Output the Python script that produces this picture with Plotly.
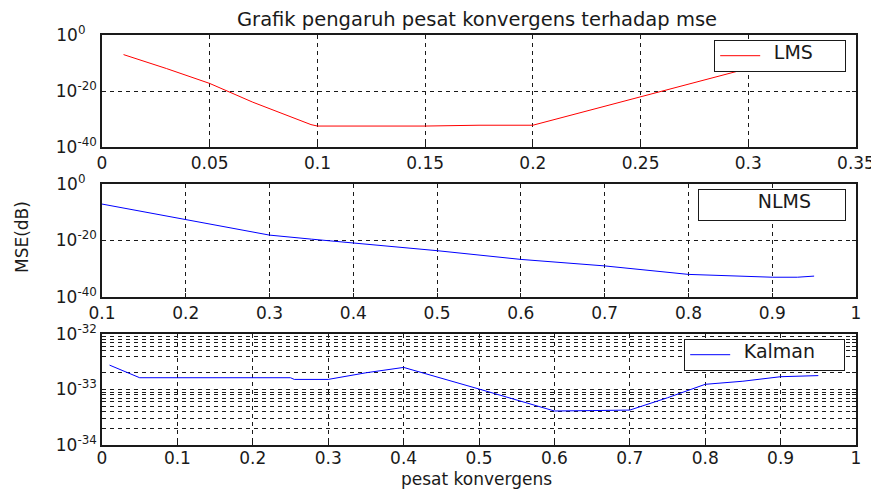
import plotly.graph_objects as go

# ---------------- data ----------------
lms_mu = [0.01, 0.03, 0.05, 0.07, 0.097, 0.1, 0.15, 0.175, 0.2, 0.25, 0.3]
lms_mse = [1e-7, 1e-12, 5e-18, 1e-24, 1e-32, 3e-33, 3e-33, 6e-33, 6e-33, 1e-22, 1.2e-12]

nlms_mu = [0.1, 0.2, 0.3, 0.35, 0.4, 0.45, 0.5, 0.6, 0.7, 0.8, 0.85, 0.9, 0.93, 0.95]
nlms_mse = [8e-8, 3e-13, 8e-19, 3e-20, 1.6e-21, 6e-23, 2.5e-24, 2e-27, 1e-29, 1e-32,
            2.5e-33, 1e-33, 1e-33, 2.5e-33]

kal_mu = [0.01, 0.05, 0.1, 0.2, 0.25, 0.255, 0.3, 0.35, 0.4, 0.5, 0.55, 0.6, 0.65,
          0.7, 0.75, 0.8, 0.85, 0.9, 0.95]
kal_mse = [2.75e-33, 1.63e-33, 1.63e-33, 1.63e-33, 1.63e-33, 1.52e-33, 1.52e-33,
           2.0e-33, 2.5e-33, 1.02e-33, 6.4e-34, 4.1e-34, 4.17e-34, 4.26e-34, 7.1e-34,
           1.24e-33, 1.41e-33, 1.7e-33, 1.78e-33]

top_xticks = [0, 0.05, 0.1, 0.15, 0.2, 0.25, 0.3, 0.35]
mid_xticks = [0.1, 0.2, 0.3, 0.4, 0.5, 0.6, 0.7, 0.8, 0.9, 1]
bot_xticks = [0, 0.1, 0.2, 0.3, 0.4, 0.5, 0.6, 0.7, 0.8, 0.9, 1]
big_yticks = [1e-40, 1e-20, 1e0]
big_ylabels = ["10<sup>-40</sup>", "10<sup>-20</sup>", "10<sup>0&nbsp;&nbsp;&nbsp;</sup>"]
kal_yticks = [1e-34, 1e-33, 1e-32]
kal_ylabels = ["10<sup>-34</sup>", "10<sup>-33</sup>", "10<sup>-32</sup>"]
kal_minor = [2e-34, 3e-34, 4e-34, 5e-34, 6e-34, 7e-34, 8e-34, 9e-34,
             2e-33, 4e-33, 5e-33, 6e-33, 7e-33, 8e-33, 9e-33]

title_text = "Grafik pengaruh pesat konvergens terhadap mse"
ylabel_text = "MSE(dB)"
xlabel_text = "pesat konvergens"
legend_names = ["LMS", "NLMS", "Kalman"]

# ---------------- figure ----------------
OFF = 8                      # the page body margin shifts the figure by 8 px
W, H = 879 - OFF, 490 - OFF
FONT = "DejaVu Sans"
FS = 17
INK = "#1a1a1a"


def px_x(p):
    return (p - OFF) / W


def px_y(p):
    return 1 - (p - OFF) / H


def leg_name(s):
    return "&nbsp;&nbsp;&nbsp;<span style='font-size:19px'>" + s + "</span>"


fig = go.Figure()
fig.add_trace(go.Scatter(x=lms_mu, y=lms_mse, mode="lines", name=leg_name(legend_names[0]),
                         line=dict(color="#ff0000", width=1),
                         xaxis="x", yaxis="y", legend="legend"))
fig.add_trace(go.Scatter(x=nlms_mu, y=nlms_mse, mode="lines", name=legend_names[1],
                         line=dict(color="#0000ff", width=1), showlegend=False,
                         xaxis="x2", yaxis="y2"))
# the NLMS legend entry shows no sample line in the reference
fig.add_trace(go.Scatter(x=[None], y=[None], mode="lines", name=leg_name(legend_names[1]),
                         line=dict(color="rgba(0,0,0,0)", width=1),
                         xaxis="x2", yaxis="y2", legend="legend2"))
fig.add_trace(go.Scatter(x=kal_mu, y=kal_mse, mode="lines", name=leg_name(legend_names[2]),
                         line=dict(color="#0000ff", width=1),
                         xaxis="x3", yaxis="y3", legend="legend3"))

xdom = [px_x(102), px_x(856)]
axis_common = dict(showline=True, mirror="allticks", linecolor=INK, linewidth=1.5,
                   ticks="inside", ticklen=4, tickcolor=INK, automargin=False,
                   showgrid=True, gridcolor=INK, gridwidth=1.2, griddash="4px,4px",
                   zeroline=False, tickfont=dict(family=FONT, size=FS, color=INK))

fig.update_layout(
    width=W, height=H, margin=dict(l=0, r=0, t=0, b=0, autoexpand=False),
    paper_bgcolor="white", plot_bgcolor="white",
    font=dict(family=FONT, size=FS, color=INK),
    xaxis=dict(domain=xdom, anchor="y", range=[0, 0.35], tickvals=top_xticks, **axis_common),
    yaxis=dict(domain=[px_y(147), px_y(35)], anchor="x", type="log", range=[-40, 0],
               tickvals=big_yticks, ticktext=big_ylabels, **axis_common),
    xaxis2=dict(domain=xdom, anchor="y2", range=[0.1, 1], tickvals=mid_xticks, **axis_common),
    yaxis2=dict(domain=[px_y(297), px_y(184)], anchor="x2", type="log", range=[-40, 0],
                tickvals=big_yticks, ticktext=big_ylabels, **axis_common),
    xaxis3=dict(domain=xdom, anchor="y3", range=[0, 1], tickvals=bot_xticks,
                ticklabelstandoff=-3, **axis_common),
    yaxis3=dict(domain=[px_y(445), px_y(334)], anchor="x3", type="log", range=[-34, -32],
                tickvals=kal_yticks, ticktext=kal_ylabels,
                minor=dict(tickmode="array", tickvals=kal_minor, ticks="inside", ticklen=4,
                           tickcolor=INK, showgrid=True, gridcolor=INK, gridwidth=1.2,
                           griddash="4px,4px"),
                **axis_common),
    showlegend=True,
)

leg_common = dict(xanchor="right", yanchor="top", bgcolor="white", bordercolor=INK,
                  borderwidth=1.2, font=dict(family=FONT, size=9, color=INK),
                  orientation="h", itemwidth=40, valign="middle")
fig.update_layout(
    legend=dict(x=px_x(846), y=px_y(40), entrywidth=74, **leg_common),
    legend2=dict(x=px_x(846), y=px_y(189), entrywidth=90, **leg_common),
    legend3=dict(x=px_x(845), y=px_y(339), entrywidth=103, **leg_common),
)

fig.add_annotation(text=title_text, x=px_x(477), y=px_y(19), xref="paper", yref="paper",
                   xanchor="center", yanchor="middle",
                   showarrow=False, font=dict(family=FONT, size=19.5, color=INK))
fig.add_annotation(text=xlabel_text, x=px_x(476), y=px_y(479), xref="paper", yref="paper",
                   xanchor="center", yanchor="middle", borderpad=0,
                   showarrow=False, font=dict(family=FONT, size=17, color=INK))
fig.add_annotation(text=ylabel_text, x=px_x(22), y=px_y(237), xref="paper", yref="paper",
                   xanchor="center", yanchor="middle",
                   showarrow=False, textangle=-90, font=dict(family=FONT, size=FS, color=INK))

fig.write_html("out.html")
